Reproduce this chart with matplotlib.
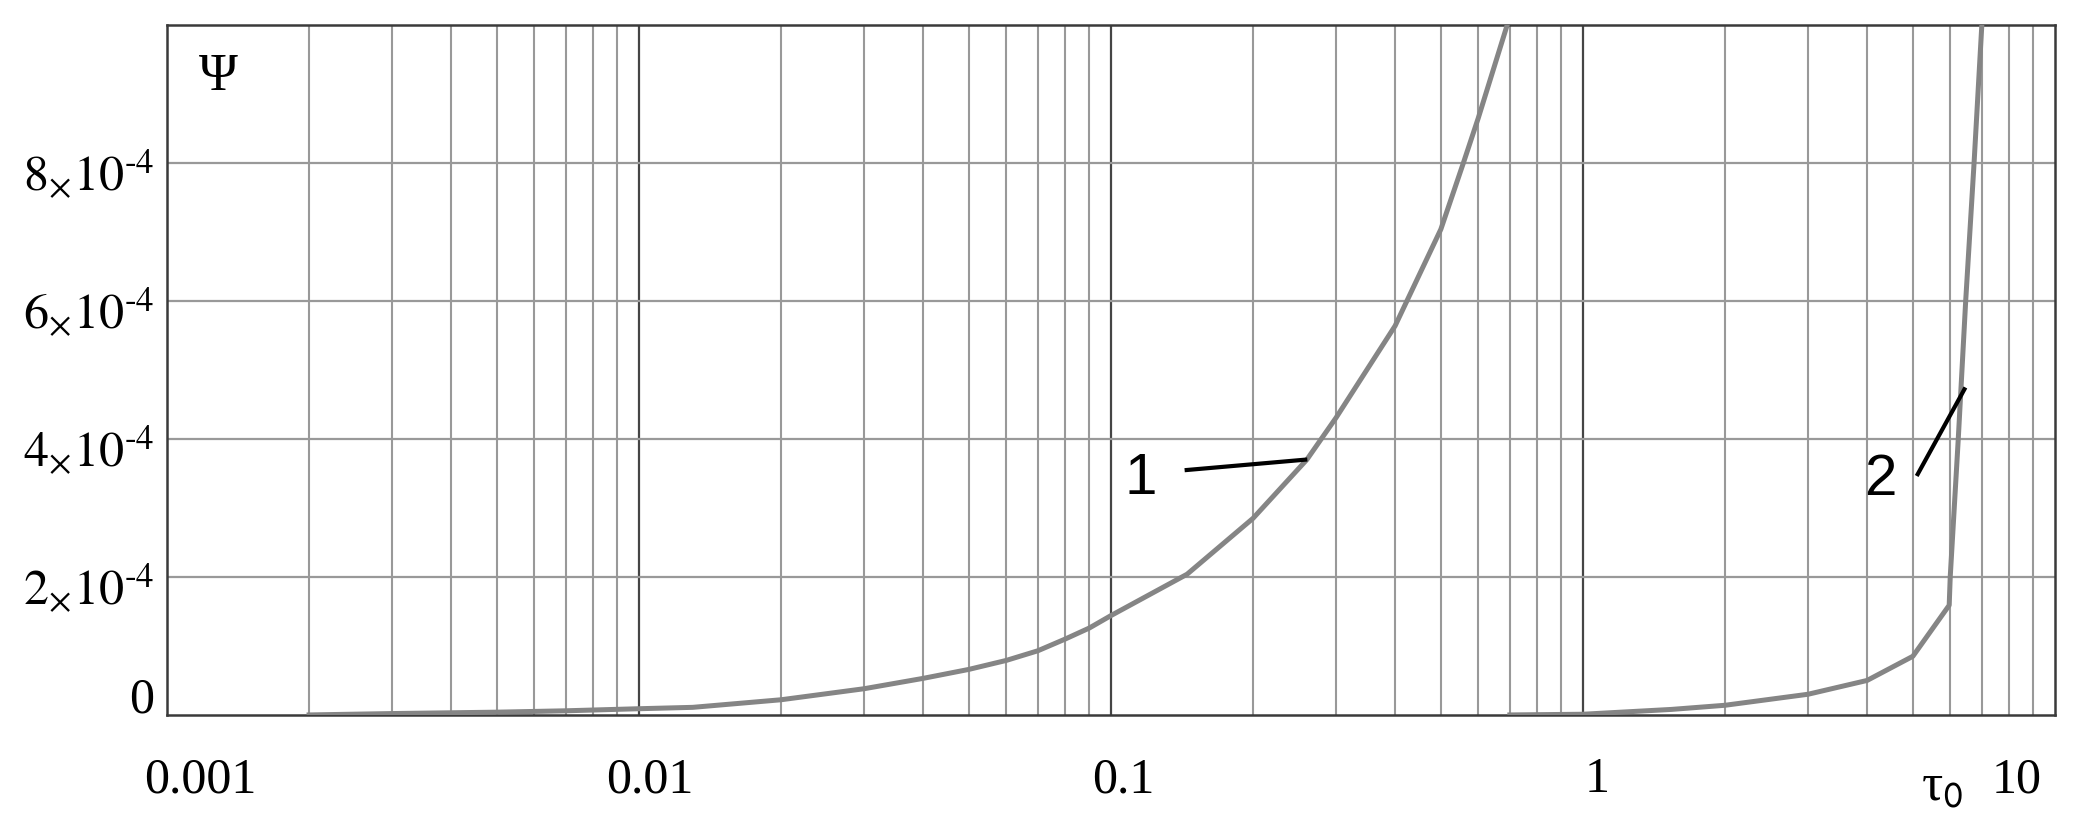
import matplotlib
matplotlib.use("Agg")
import matplotlib.pyplot as plt
import matplotlib.transforms as mtransforms
import numpy as np

plt.rcParams['font.family'] = ['Liberation Serif', 'DejaVu Serif']
plt.rcParams['mathtext.fontset'] = 'stix'

# curve 1 (tau, Psi in units of 1e-4)
tau1 = [0.002, 0.003, 0.005, 0.007, 0.01, 0.013, 0.02, 0.03, 0.04, 0.05, 0.06,
        0.07, 0.08, 0.09, 0.1, 0.145, 0.2, 0.26, 0.3, 0.4, 0.5, 0.558, 0.6,
        0.691]
psi1 = [0.0, 0.02, 0.04, 0.06, 0.09, 0.11, 0.22, 0.38, 0.53, 0.66, 0.79,
        0.93, 1.10, 1.26, 1.44, 2.04, 2.85, 3.70, 4.31, 5.64, 7.04, 8.0, 8.65,
        10.0]
# curve 2
tau2 = [0.7, 1.0, 1.54, 2.0, 3.0, 4.0, 5.0, 5.97, 6.0, 6.24, 6.47, 6.74, 7.0]
psi2 = [0.0, 0.01, 0.08, 0.14, 0.30, 0.50, 0.85, 1.59, 2.0, 4.0, 6.0, 8.0, 10.0]
psi_scale = 1e-4

xticks = [0.001, 0.01, 0.1, 1, 10]
xticklabels = ['0.001', '0.01', '0.1', '1', '10']
yticks = [0, 2e-4, 4e-4, 6e-4, 8e-4]
yticklabels = ['0', r'$2_{\times}10^{\text{-}4}$', r'$4_{\times}10^{\text{-}4}$',
               r'$6_{\times}10^{\text{-}4}$', r'$8_{\times}10^{\text{-}4}$']
tau0 = 5.75

fig = plt.figure(figsize=(20.82, 8.18), dpi=100)
ax = fig.add_axes([0.0802, 0.126, 0.9068, 0.8434])
ax.set_xscale('log')
ax.set_xlim(0.001, 10)
ax.set_ylim(0, 1e-3)

# grid: minor light, decades dark
for dec in [0.001, 0.01, 0.1, 1]:
    for k in range(2, 10):
        ax.axvline(dec * k, color='#999999', lw=1.5, zorder=1)
for dec in xticks[1:-1]:
    ax.axvline(dec, color='#454545', lw=1.6, zorder=1)
for yv in yticks[1:]:
    ax.axhline(yv, color='#999999', lw=1.6, zorder=1)

ax.plot(tau1, np.array(psi1) * psi_scale, color='#858585', lw=3.6, zorder=3)
ax.plot(tau2, np.array(psi2) * psi_scale, color='#858585', lw=3.6, zorder=3)

for s in ax.spines.values():
    s.set_color('#3a3a3a')
    s.set_linewidth(1.8)

ax.set_xticks(xticks)
ax.set_xticklabels(xticklabels)
ax.minorticks_off()
ax.set_yticks(yticks)
ax.set_yticklabels(yticklabels)
ax.tick_params(axis='both', length=0, labelsize=36)
ax.tick_params(axis='x', pad=30)
ax.tick_params(axis='y', pad=9)

# mathcad-like label offsets (pixels)
x_offs = [33, 11, 12, 14, -38]
for lab, dx in zip(ax.get_xticklabels(), x_offs):
    lab.set_transform(lab.get_transform() +
                      mtransforms.ScaledTranslation(dx / 100, 0, fig.dpi_scale_trans))
y_offs = [20, -6, -6, -6, -6]
for lab, dy in zip(ax.get_yticklabels(), y_offs):
    lab.set_transform(lab.get_transform() +
                      mtransforms.ScaledTranslation(0, dy / 100, fig.dpi_scale_trans))

trans = mtransforms.blended_transform_factory(ax.transData, ax.transAxes)
ax.text(tau0, -0.105, r'τ$_{\mathsf{0}}$', transform=trans, fontsize=38,
        ha='center', va='center')
ax.text(0.0171, 0.925, 'Ψ', transform=ax.transAxes, fontsize=38,
        ha='left', va='center')

# curve labels with leaders
ax.text(0.1155, 3.42e-4, '1', fontsize=42, family='Liberation Sans',
        ha='center', va='center', zorder=5)
ax.plot([0.1447, 0.258], [3.55e-4, 3.70e-4], color='black', lw=3, zorder=5)
ax.text(4.27, 3.41e-4, '2', fontsize=42, family='Liberation Sans',
        ha='center', va='center', zorder=5)
ax.plot([5.12, 6.43], [3.49e-4, 4.72e-4], color='black', lw=3, zorder=5)

fig.savefig('out.png', dpi=100)
